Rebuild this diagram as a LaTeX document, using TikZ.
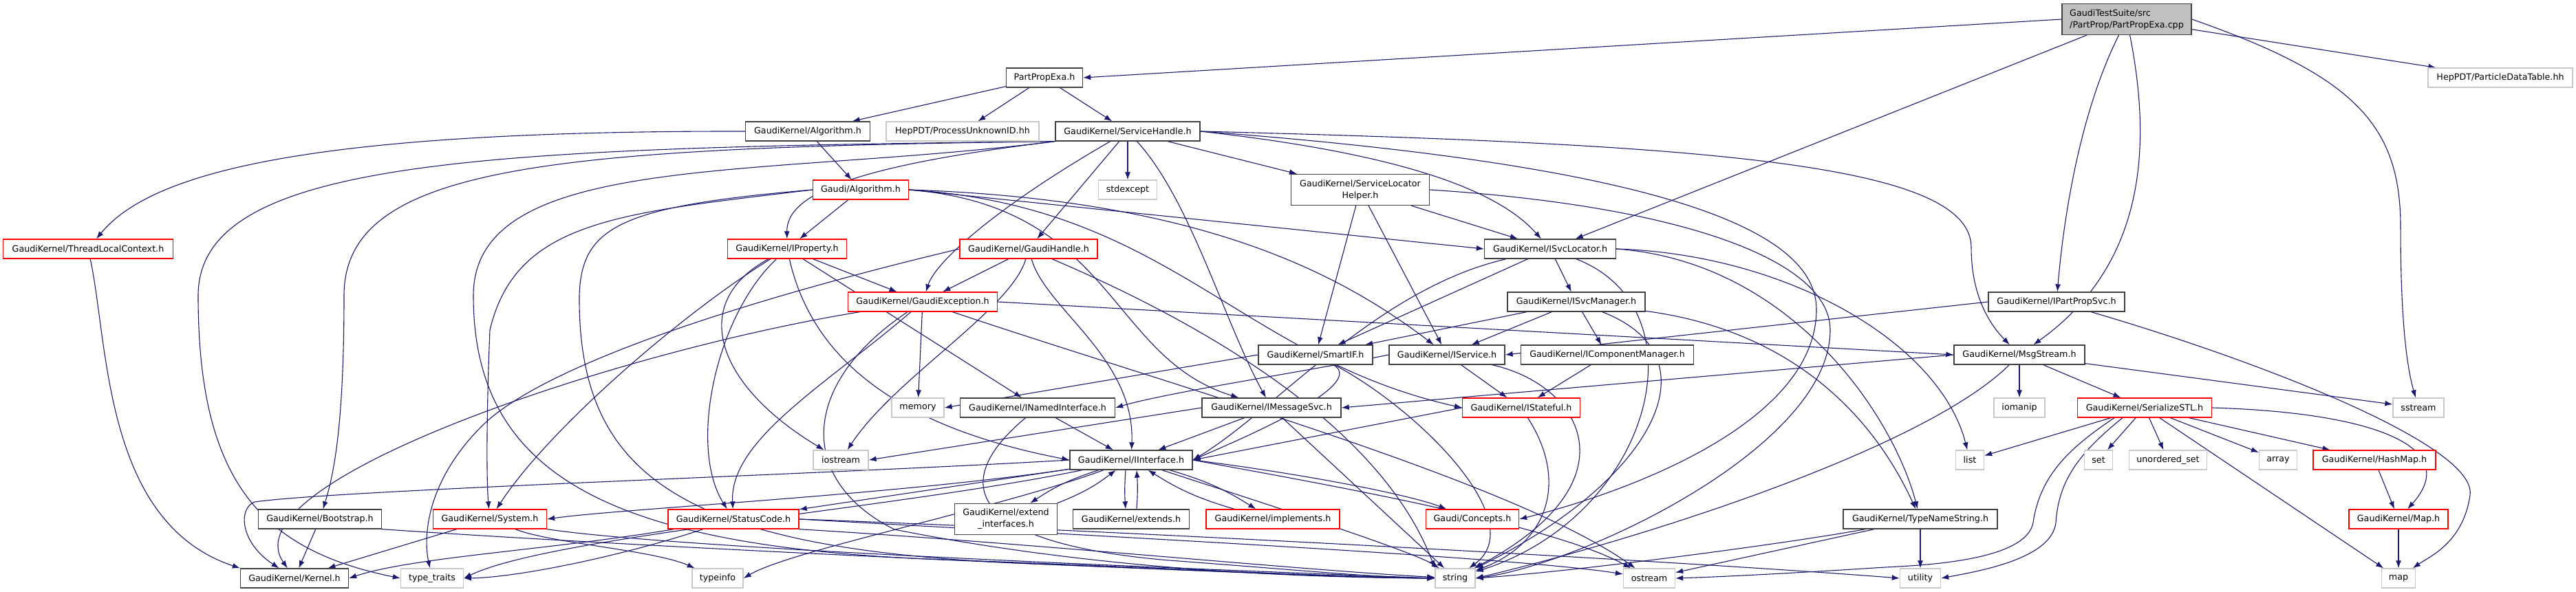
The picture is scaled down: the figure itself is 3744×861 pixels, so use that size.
\documentclass[tikz,border=0pt]{standalone}
\usepackage{fontspec}
\setmainfont{DejaVu Sans}
\usepackage{tikz}
\usetikzlibrary{arrows.meta,calc,backgrounds}
\definecolor{edgeblue}{HTML}{191970}
\definecolor{redline}{HTML}{FF0000}

\begin{document}
\begin{tikzpicture}[x=1pt,y=-1pt,
    hdr/.style={draw=black!75,line width=1.3pt,fill=white,inner sep=0pt,
        minimum height=28pt,font=\fontsize{12.7}{17}\selectfont},
    trunc/.style={hdr,draw=redline},
    sys/.style={hdr,draw=black!22},
    topf/.style={hdr,fill=black!25},
    dep/.style={draw=edgeblue,line width=1.1pt,-{Latex[length=11pt,width=8pt]}}]
            \useasboundingbox (0,0) rectangle (3744,861);
            % files, one rank after the other
            \node[topf,align=left,minimum width=188pt,minimum height=45pt] (cpp) at (3091,28) {GaudiTestSuite/src\\/PartProp/PartPropExa.cpp};
            \node[hdr,minimum width=111pt] (pph) at (1518,113) {PartPropExa.h};
            \node[sys,minimum width=210pt] (pdt) at (3634,113) {HepPDT/ParticleDataTable.hh};
            \node[hdr,minimum width=181pt] (gkalg) at (1174,191) {GaudiKernel/Algorithm.h};
            \node[sys,minimum width=222pt] (pui) at (1399,191) {HepPDT/ProcessUnknownID.hh};
            \node[hdr,minimum width=210pt] (svch) at (1639,191) {GaudiKernel/ServiceHandle.h};
            \node[trunc,minimum width=139pt] (galg) at (1251,276) {Gaudi/Algorithm.h};
            \node[sys,minimum width=85pt] (stdexc) at (1639,276) {stdexcept};
            \node[hdr,align=center,minimum width=201pt,minimum height=45pt] (slh) at (1977,276) {GaudiKernel/ServiceLocator\\Helper.h};
            \node[trunc,minimum width=247pt] (tlc) at (128,362) {GaudiKernel/ThreadLocalContext.h};
            \node[trunc,minimum width=173pt] (iprop) at (1144,362) {GaudiKernel/IProperty.h};
            \node[trunc,minimum width=200pt] (ghandle) at (1495,362) {GaudiKernel/GaudiHandle.h};
            \node[hdr,minimum width=191pt] (isvcloc) at (2253,362) {GaudiKernel/ISvcLocator.h};
            \node[trunc,minimum width=217pt] (gexc) at (1341,439) {GaudiKernel/GaudiException.h};
            \node[hdr,minimum width=200pt] (isvcmgr) at (2291,439) {GaudiKernel/ISvcManager.h};
            \node[hdr,minimum width=198pt] (ipps) at (2989,439) {GaudiKernel/IPartPropSvc.h};
            \node[hdr,minimum width=166pt] (smartif) at (1912,516) {GaudiKernel/SmartIF.h};
            \node[hdr,minimum width=168pt] (iservice) at (2103,516) {GaudiKernel/IService.h};
            \node[hdr,minimum width=251pt] (icompmgr) at (2336,516) {GaudiKernel/IComponentManager.h};
            \node[hdr,minimum width=190pt] (msgstream) at (2935,516) {GaudiKernel/MsgStream.h};
            \node[sys,minimum width=76pt] (memory) at (1334,593) {memory};
            \node[hdr,minimum width=225pt] (inamed) at (1508,593) {GaudiKernel/INamedInterface.h};
            \node[hdr,minimum width=202pt] (imsgsvc) at (1848,593) {GaudiKernel/IMessageSvc.h};
            \node[trunc,minimum width=171pt] (istateful) at (2211,593) {GaudiKernel/IStateful.h};
            \node[sys,minimum width=74pt] (iomanip) at (2935,593) {iomanip};
            \node[trunc,minimum width=195pt] (serstl) at (3117,593) {GaudiKernel/SerializeSTL.h};
            \node[sys,minimum width=74pt] (sstream) at (3515,593) {sstream};
            \node[sys,minimum width=80pt] (iostream) at (1222,669) {iostream};
            \node[hdr,minimum width=178pt] (iiface) at (1644,669) {GaudiKernel/IInterface.h};
            \node[sys,minimum width=41pt] (list) at (2863,669) {list};
            \node[sys,minimum width=41pt] (set) at (3050,669) {set};
            \node[sys,minimum width=113pt] (uset) at (3151,669) {unordered\_set};
            \node[sys,minimum width=55pt] (array) at (3311,669) {array};
            \node[trunc,minimum width=178pt] (hashmap) at (3451,669) {GaudiKernel/HashMap.h};
            \node[hdr,minimum width=179pt] (bootstrap) at (465,755) {GaudiKernel/Bootstrap.h};
            \node[trunc,minimum width=165pt] (system) at (712,755) {GaudiKernel/System.h};
            \node[trunc,minimum width=190pt] (statuscode) at (1066,755) {GaudiKernel/StatusCode.h};
            \node[hdr,align=center,minimum width=149pt,minimum height=45pt] (extif) at (1462,755) {GaudiKernel/extend\\\_interfaces.h};
            \node[hdr,minimum width=169pt] (extends) at (1644,755) {GaudiKernel/extends.h};
            \node[trunc,minimum width=194pt] (implements) at (1850,755) {GaudiKernel/implements.h};
            \node[trunc,minimum width=135pt] (concepts) at (2140,755) {Gaudi/Concepts.h};
            \node[hdr,minimum width=224pt] (tns) at (2791,755) {GaudiKernel/TypeNameString.h};
            \node[trunc,minimum width=144pt] (maph) at (3486,755) {GaudiKernel/Map.h};
            \node[hdr,minimum width=157pt] (kernel) at (428,841) {GaudiKernel/Kernel.h};
            \node[sys,minimum width=91pt] (ttraits) at (628,841) {type\_traits};
            \node[sys,minimum width=74pt] (typeinfo) at (1043,841) {typeinfo};
            \node[sys,minimum width=58pt] (string) at (2115,841) {string};
            \node[sys,minimum width=75pt] (ostream) at (2397,841) {ostream};
            \node[sys,minimum width=59pt] (utility) at (2791,841) {utility};
            \node[sys,minimum width=49pt] (map) at (3486,841) {map};
            \begin{scope}[on background layer]
            % PartPropExa.cpp
            \draw[dep] (cpp.west) -- (pph.east);
            \draw[dep] (cpp) -- (pdt);
            \draw[dep] (cpp) -- (isvcloc);
            \draw[dep] (cpp) .. controls (3020,170) and (2998,330) .. (ipps);
            \draw[dep] (cpp) .. controls (3125,200) and (3125,380) .. (msgstream);
            \draw[dep] (cpp.east) .. controls (3420,110) and (3489,180) .. (3489,330) .. controls (3489,480) and (3500,540) .. (sstream);
            % PartPropExa.h
            \draw[dep] (pph) -- (gkalg);
            \draw[dep] (pph) -- (pui);
            \draw[dep] (pph) -- (svch);
            % GaudiKernel/Algorithm.h
            \draw[dep] (gkalg) -- (galg);
            \draw[dep] (gkalg.west) .. controls (450,190) and (220,250) .. (tlc);
            % GaudiKernel/ServiceHandle.h
            \draw[dep] (svch.south west) .. controls (800,215) and (500,240) .. (500,430) .. controls (500,620) and (485,690) .. (bootstrap);
            \draw[dep] (svch.south west) .. controls (700,215) and (288,230) .. (288,430) .. controls (288,700) and (380,800) .. (ttraits.west);
            \draw[dep] (svch.south west) .. controls (1100,260) and (688,220) .. (688,430) .. controls (688,700) and (900,800) .. (1400,815) .. controls (1800,830) and (1950,840) .. (string.west);
            \draw[dep] (svch.south west) .. controls (1250,240) and (1143,280) .. (iprop);
            \draw[dep] (svch) .. controls (1450,300) and (1360,380) .. (gexc);
            \draw[dep] (svch) -- (ghandle);
            \draw[dep] (svch) -- (stdexc);
            \draw[dep] (svch) .. controls (1730,290) and (1780,470) .. (imsgsvc);
            \draw[dep] (svch) -- (slh);
            \draw[dep] (svch.east) .. controls (2500,210) and (2865,240) .. (2865,360) .. controls (2865,440) and (2900,480) .. (msgstream);
            \draw[dep] (svch.east) .. controls (2050,225) and (2180,280) .. (isvcloc);
            \draw[dep] (svch.east) .. controls (2400,240) and (2640,330) .. (2640,450) .. controls (2640,620) and (2350,720) .. (concepts.east);
            % Gaudi/Algorithm.h
            \draw[dep] (galg) -- (iprop);
            \draw[dep] (galg.east) -- (isvcloc.west);
            \draw[dep] (galg.east) .. controls (1750,290) and (1950,400) .. (iservice);
            \draw[dep] (galg.east) .. controls (1620,300) and (1610,520) .. (imsgsvc);
            \draw[dep] (galg.east) .. controls (1700,300) and (1800,520) .. (istateful.west);
            \draw[dep] (galg.west) .. controls (900,300) and (845,330) .. (842,430) .. controls (840,700) and (1000,800) .. (1500,820) .. controls (1800,832) and (1950,840) .. (string.west);
            \draw[dep] (galg.west) .. controls (900,310) and (750,320) .. (712,480) .. controls (707,600) and (707,700) .. (system);
            % GaudiKernel/ServiceLocatorHelper.h
            \draw[dep] (slh) -- (smartif);
            \draw[dep] (slh) -- (iservice);
            \draw[dep] (slh) -- (isvcloc);
            \draw[dep] (slh.east) .. controls (2450,300) and (2660,380) .. (2660,480) .. controls (2660,650) and (2300,820) .. (string.east);
            % GaudiKernel/ThreadLocalContext.h
            \draw[dep] (tlc) .. controls (158,500) and (150,760) .. (kernel.north west);
            % GaudiKernel/IProperty.h
            \draw[dep] (iprop) -- (gexc);
            \draw[dep] (iprop) -- (inamed);
            \draw[dep] (iprop) .. controls (1180,520) and (1300,620) .. (iiface.west);
            \draw[dep] (iprop) .. controls (1000,440) and (1040,560) .. (iostream);
            \draw[dep] (iprop) .. controls (1040,460) and (1000,650) .. (statuscode);
            \draw[dep] (iprop) .. controls (1000,450) and (800,620) .. (system);
            % GaudiKernel/GaudiHandle.h
            \draw[dep] (ghandle) -- (gexc);
            \draw[dep] (ghandle) .. controls (1470,450) and (1300,550) .. (iostream);
            \draw[dep] (ghandle) .. controls (1520,450) and (1650,520) .. (iiface);
            \draw[dep] (ghandle.west) .. controls (1150,420) and (800,520) .. (700,620) .. controls (620,700) and (615,780) .. (ttraits);
            \draw[dep] (ghandle) .. controls (1700,450) and (2000,600) .. (string.north west);
            % GaudiKernel/GaudiException.h
            \draw[dep] (gexc) .. controls (900,510) and (330,700) .. (kernel);
            \draw[dep] (gexc) .. controls (1200,560) and (1060,640) .. (statuscode);
            \draw[dep] (gexc) -- (memory);
            \draw[dep] (gexc) .. controls (1160,560) and (1160,700) .. (1300,770) .. controls (1600,830) and (1900,840) .. (string.west);
            \draw[dep] (gexc) .. controls (1700,560) and (2200,700) .. (ostream);
            \draw[dep] (gexc.east) -- (msgstream.west);
            % GaudiKernel/ISvcLocator.h
            \draw[dep] (isvcloc) -- (isvcmgr);
            \draw[dep] (isvcloc) -- (smartif);
            \draw[dep] (isvcloc) .. controls (2000,420) and (1850,600) .. (iiface.east);
            \draw[dep] (isvcloc) .. controls (2480,450) and (2400,750) .. (string);
            \draw[dep] (isvcloc.east) .. controls (2600,380) and (2750,600) .. (tns);
            \draw[dep] (isvcloc.east) .. controls (2600,370) and (2820,500) .. (list);
            % GaudiKernel/ISvcManager.h
            \draw[dep] (isvcmgr) -- (smartif);
            \draw[dep] (isvcmgr) -- (iservice);
            \draw[dep] (isvcmgr) -- (icompmgr);
            \draw[dep] (isvcmgr) .. controls (2500,520) and (2400,700) .. (string);
            \draw[dep] (isvcmgr) .. controls (2600,480) and (2720,600) .. (tns);
            % GaudiKernel/IPartPropSvc.h
            \draw[dep] (ipps.west) -- (iservice.east);
            \draw[dep] (ipps) .. controls (3300,530) and (3600,650) .. (3590,720) .. controls (3580,790) and (3530,810) .. (map);
            % GaudiKernel/SmartIF.h
            \draw[dep] (smartif.west) -- (memory.east);
            \draw[dep] (smartif) .. controls (1990,560) and (1800,640) .. (iiface.east);
            \draw[dep] (smartif) .. controls (2064,597) and (2226,760) .. (string);
            % GaudiKernel/IService.h
            \draw[dep] (iservice.west) .. controls (1900,540) and (1700,570) .. (inamed.east);
            \draw[dep] (iservice) -- (istateful);
            \draw[dep] (iservice) .. controls (2300,560) and (2380,700) .. (string);
            % GaudiKernel/IComponentManager.h
            \draw[dep] (icompmgr) -- (istateful);
            % GaudiKernel/MsgStream.h
            \draw[dep] (msgstream) -- (iomanip);
            \draw[dep] (msgstream) -- (serstl);
            \draw[dep] (msgstream) -- (sstream);
            \draw[dep] (msgstream.west) -- (imsgsvc.east);
            \draw[dep] (msgstream) .. controls (2800,650) and (2400,780) .. (string.east);
            % GaudiKernel/INamedInterface.h
            \draw[dep] (inamed) -- (iiface);
            \draw[dep] (inamed) .. controls (1380,700) and (1400,790) .. (1700,815) .. controls (1900,830) and (2000,840) .. (string.west);
            % GaudiKernel/IMessageSvc.h
            \draw[dep] (imsgsvc) -- (iiface);
            \draw[dep] (imsgsvc.west) -- (iostream.east);
            \draw[dep] (imsgsvc) -- (string);
            % GaudiKernel/IStateful.h
            \draw[dep] (istateful.west) -- (iiface.east);
            \draw[dep] (istateful) .. controls (2280,700) and (2250,790) .. (string);
            % GaudiKernel/SerializeSTL.h
            \draw[dep] (serstl) -- (list);
            \draw[dep] (serstl) -- (set);
            \draw[dep] (serstl) -- (uset);
            \draw[dep] (serstl) -- (array);
            \draw[dep] (serstl) -- (hashmap);
            \draw[dep] (serstl) -- (map);
            \draw[dep] (serstl.east) .. controls (3450,600) and (3580,650) .. (maph);
            \draw[dep] ([xshift=-44pt]serstl.south) .. controls (3010,650) and (2965,690) .. (2955,760) .. controls (2945,815) and (2800,822) .. (2740,825) .. controls (2600,834) and (2500,839) .. (ostream.east);
            \draw[dep] ([xshift=-32pt]serstl.south) .. controls (3020,660) and (2992,700) .. (2988,760) .. controls (2982,812) and (2880,830) .. (utility.east);
            % GaudiKernel/IInterface.h
            \draw[dep] (iiface.west) .. controls (1200,690) and (500,712) .. (370,730) .. controls (345,740) and (350,790) .. (kernel);
            \draw[dep] (iiface) .. controls (1300,720) and (900,740) .. (system.east);
            \draw[dep] (iiface) -- (statuscode);
            \draw[dep] (iiface) .. controls (1300,740) and (800,780) .. (ttraits.east);
            \draw[dep] (iiface) .. controls (1450,740) and (1150,800) .. (typeinfo.east);
            \draw[dep] (iiface) to[bend right=8] (extif);
            \draw[dep] (extif) to[bend right=8] (iiface);
            \draw[dep] ([xshift=-8pt]iiface.south) to[bend right=4] ([xshift=-8pt]extends.north);
            \draw[dep] ([xshift=8pt]extends.north) to[bend right=4] ([xshift=8pt]iiface.south);
            \draw[dep] (iiface) to[bend left=8] (implements);
            \draw[dep] (implements) to[bend left=8] (iiface);
            \draw[dep] (iiface.east) .. controls (1900,690) and (2050,720) .. (concepts);
            \draw[dep] (iiface) .. controls (1800,720) and (2050,800) .. (string);
            \draw[dep] (iiface.east) .. controls (1900,700) and (2250,760) .. (ostream);
            % GaudiKernel/System.h
            \draw[dep] (system) -- (kernel);
            \draw[dep] (system) .. controls (800,790) and (950,800) .. (typeinfo);
            \draw[dep] (system.south east) .. controls (1000,800) and (1800,830) .. (string.west);
            % GaudiKernel/StatusCode.h
            \draw[dep] (statuscode) .. controls (800,800) and (600,810) .. (kernel.east);
            \draw[dep] (statuscode) .. controls (900,810) and (750,840) .. (ttraits.east);
            \draw[dep] (statuscode.south east) .. controls (1500,790) and (1900,830) .. (string);
            \draw[dep] (statuscode.east) .. controls (1600,780) and (2200,810) .. (ostream);
            \draw[dep] (statuscode.east) .. controls (1700,775) and (2500,820) .. (utility.west);
            % GaudiKernel/Bootstrap.h
            \draw[dep] (bootstrap) -- (kernel);
            \draw[dep] (bootstrap.south east) .. controls (1000,800) and (1800,835) .. (string.west);
            % GaudiKernel/TypeNameString.h
            \draw[dep] (tns) -- (utility);
            \draw[dep] (tns) .. controls (2600,790) and (2300,830) .. (string.east);
            \draw[dep] (tns) -- (ostream);
            % maps
            \draw[dep] (hashmap) -- (maph);
            \draw[dep] (maph) -- (map);
            \end{scope}
        \end{tikzpicture}
\end{document}
